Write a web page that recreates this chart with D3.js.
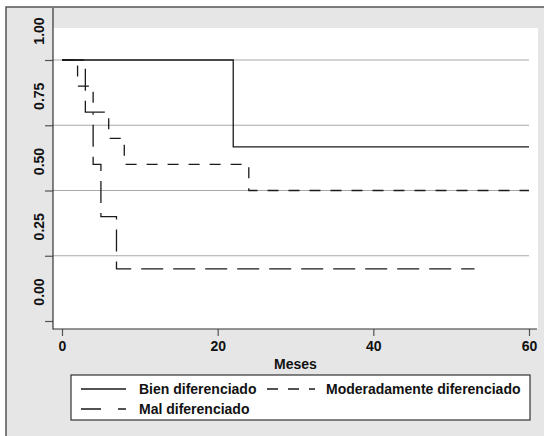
<!DOCTYPE html>
<html>
<head>
<meta charset="utf-8">
<script src="https://cdn.jsdelivr.net/npm/d3@7"></script>
<style>
  body { margin: 0; background: #fff; }
  text { font-family: "Liberation Sans", Arial, sans-serif; font-weight: bold; fill: #111; }
</style>
</head>
<body>
<script>
// Kaplan-Meier curves, months vs survival
var groups = ["Bien diferenciado", "Moderadamente diferenciado", "Mal diferenciado"];

var bienTimes = [0, 22, 60];
var bienSurv  = [1, 0.667, 0.667];

var modTimes = [0, 2, 4, 6, 8, 24, 60];
var modSurv  = [1, 0.9, 0.8, 0.7, 0.6, 0.5, 0.5];

var malTimes = [0, 3, 4, 5, 7, 53];
var malSurv  = [1, 0.8, 0.6, 0.4, 0.2, 0.2];

var xTicks = [0, 20, 40, 60];
var yTicks = [0, 0.25, 0.5, 0.75, 1];
var yTickLabels = ["0.00", "0.25", "0.50", "0.75", "1.00"];
var yGrid = [0.25, 0.5, 0.75, 1];

var W = 544, H = 436;

var svg = d3.select('body').append('svg')
  .attr('width', W)
  .attr('height', H);

// outer graph region
svg.append('rect')
  .attr('x', 6).attr('y', 7)
  .attr('width', W + 10).attr('height', H + 10)
  .attr('fill', '#e6e6e6')
  .attr('stroke', '#555')
  .attr('stroke-width', 1.5);

// plot region
svg.append('rect')
  .attr('x', 53).attr('y', 28)
  .attr('width', 485).attr('height', 301)
  .attr('fill', '#fff');

var x = d3.scaleLinear().domain([0, 60]).range([62, 529]);
var y = d3.scaleLinear().domain([0, 1]).range([321, 60]);

// grid lines
svg.append('g').selectAll('line')
  .data(yGrid)
  .enter().append('line')
  .attr('x1', 53)
  .attr('x2', x(60))
  .attr('y1', function(d){ return y(d); })
  .attr('y2', function(d){ return y(d); })
  .attr('stroke', '#a9a9a9')
  .attr('stroke-width', 1.2);

// y axis
var yAxis = svg.append('g')
  .attr('transform', 'translate(53,0)')
  .call(d3.axisLeft(y).tickValues(yTicks).tickSize(8).tickFormat(''));
yAxis.select('.domain').remove();
yAxis.selectAll('.tick line').attr('stroke', '#555').attr('stroke-width', 1.2);

svg.append('line')
  .attr('x1', 53).attr('x2', 53)
  .attr('y1', 8).attr('y2', 329.5)
  .attr('stroke', '#333').attr('stroke-width', 1.2);

// y labels (sit a bit above their ticks, as in the original)
svg.append('g').selectAll('text')
  .data(yTicks)
  .enter().append('text')
  .attr('transform', function(d){ return 'translate(44,' + (y(d) - 29) + ') rotate(-90)'; })
  .attr('text-anchor', 'middle')
  .style('font-size', '14px')
  .text(function(d, i){ return yTickLabels[i]; });

// x axis
var xAxis = svg.append('g')
  .attr('transform', 'translate(0,329)')
  .call(d3.axisBottom(x).tickValues(xTicks).tickSize(7).tickPadding(5));
xAxis.select('.domain').remove();
xAxis.selectAll('.tick line').attr('stroke', '#555').attr('stroke-width', 1.2);
xAxis.selectAll('.tick text')
  .style('font-size', '14px')
  .style('font-family', '"Liberation Sans", Arial, sans-serif')
  .style('font-weight', 'bold')
  .attr('fill', '#111');

svg.append('line')
  .attr('x1', 53).attr('x2', 537)
  .attr('y1', 329).attr('y2', 329)
  .attr('stroke', '#333').attr('stroke-width', 1.2);

svg.append('text')
  .attr('x', (x(0) + x(60)) / 2)
  .attr('y', 369)
  .attr('text-anchor', 'middle')
  .style('font-size', '14px')
  .text('Meses');

// curves
var series = [
  { name: groups[0], t: bienTimes, s: bienSurv, dash: null },
  { name: groups[1], t: modTimes, s: modSurv, dash: '11,10' },
  { name: groups[2], t: malTimes, s: malSurv, dash: '22,10' }
];

var line = d3.line()
  .x(function(d){ return x(d[0]); })
  .y(function(d){ return y(d[1]); })
  .curve(d3.curveStepAfter);

svg.append('g').selectAll('path')
  .data(series)
  .enter().append('path')
  .attr('d', function(d){ return line(d3.zip(d.t, d.s)); })
  .attr('fill', 'none')
  .attr('stroke', '#1a1a1a')
  .attr('stroke-width', 1.3)
  .attr('stroke-dasharray', function(d){ return d.dash; });

// legend
var leg = svg.append('g');
leg.append('rect')
  .attr('x', 71).attr('y', 375)
  .attr('width', 459).attr('height', 45)
  .attr('fill', '#fff')
  .attr('stroke', '#333')
  .attr('stroke-width', 1.2);

var legPos = [
  { sx: 81, tx: 139, y: 389 },
  { sx: 267, tx: 326, y: 389 },
  { sx: 81, tx: 139, y: 409 }
];
var legDash = [null, '11,10', '20,17'];
var legLen = [45, 48, 45];

leg.selectAll('line')
  .data(series)
  .enter().append('line')
  .attr('x1', function(d, i){ return legPos[i].sx; })
  .attr('x2', function(d, i){ return legPos[i].sx + legLen[i]; })
  .attr('y1', function(d, i){ return legPos[i].y; })
  .attr('y2', function(d, i){ return legPos[i].y; })
  .attr('stroke', '#1a1a1a')
  .attr('stroke-width', 1.3)
  .attr('stroke-dasharray', function(d, i){ return legDash[i]; });

leg.selectAll('text')
  .data(series)
  .enter().append('text')
  .attr('x', function(d, i){ return legPos[i].tx; })
  .attr('y', function(d, i){ return legPos[i].y + 5; })
  .style('font-size', '14px')
  .text(function(d){ return d.name; });
</script>
</body>
</html>
